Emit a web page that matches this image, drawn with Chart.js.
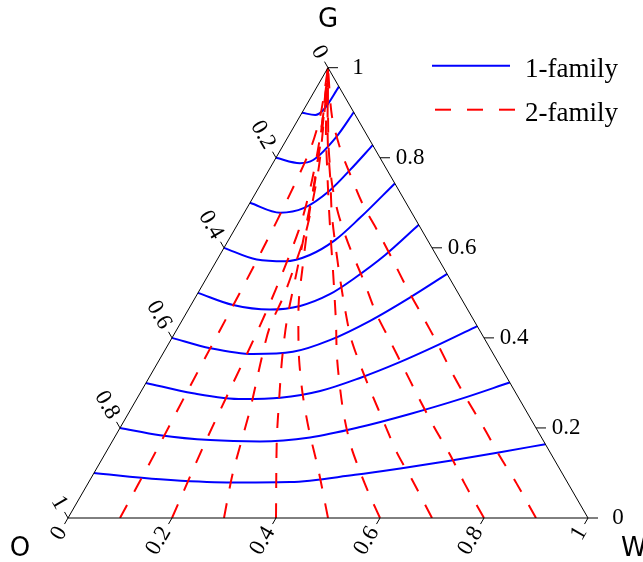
<!DOCTYPE html>
<html>
<head>
<meta charset="utf-8">
<script src="https://cdn.jsdelivr.net/npm/chart.js@4.4.0/dist/chart.umd.min.js"></script>
<style>
  html, body { margin: 0; padding: 0; background: #fff; }
</style>
</head>
<body>
<canvas id="ternary" width="643" height="562"></canvas>
<script>
"use strict";

// every point is a composition [W, G], O = 1 - W - G
const family1 = [
    [[0, 0.1], [0.134, 0.086], [0.266, 0.079], [0.387, 0.080], [0.504, 0.096], [0.584, 0.110], [0.671, 0.127], [0.758, 0.146], [0.836, 0.164]],
    [[0, 0.2], [0.085, 0.184], [0.187, 0.173], [0.284, 0.170], [0.376, 0.179], [0.461, 0.202], [0.542, 0.231], [0.622, 0.264], [0.699, 0.301]],
    [[0, 0.3], [0.102, 0.277], [0.204, 0.264], [0.275, 0.267], [0.344, 0.282], [0.406, 0.311], [0.465, 0.346], [0.522, 0.386], [0.574, 0.426]],
    [[0, 0.4], [0.085, 0.377], [0.174, 0.364], [0.248, 0.369], [0.306, 0.395], [0.362, 0.438], [0.414, 0.491], [0.458, 0.542]],
    [[0, 0.5], [0.081, 0.473], [0.157, 0.463], [0.211, 0.471], [0.255, 0.497], [0.285, 0.533], [0.318, 0.584], [0.349, 0.651]],
    [[0, 0.6], [0.076, 0.574], [0.133, 0.570], [0.173, 0.584], [0.205, 0.617], [0.228, 0.666], [0.257, 0.743]],
    [[0, 0.7], [0.069, 0.678], [0.109, 0.688], [0.140, 0.728], [0.156, 0.773], [0.172, 0.828]],
    [[0, 0.8], [0.052, 0.788], [0.074, 0.795], [0.093, 0.847], [0.099, 0.901]],
    [[0, 0.9], [0.028, 0.895], [0.038, 0.906], [0.042, 0.958]]
];

const family2 = [
    [[0.1, 0], [0.095, 0.151], [0.089, 0.281], [0.085, 0.380], [0.082, 0.462], [0.076, 0.595], [0.067, 0.722], [0.056, 0.822], [0.038, 0.895], [0, 1]],
    [[0.2, 0], [0.181, 0.158], [0.169, 0.284], [0.159, 0.395], [0.146, 0.506], [0.124, 0.640], [0.101, 0.728], [0.072, 0.817], [0.039, 0.906], [0, 1]],
    [[0.3, 0], [0.267, 0.100], [0.230, 0.240], [0.194, 0.358], [0.176, 0.424], [0.168, 0.495], [0.154, 0.569], [0.140, 0.635], [0.118, 0.706], [0.091, 0.784], [0.050, 0.884], [0, 1]],
    [[0.4, 0], [0.315, 0.173], [0.275, 0.262], [0.236, 0.351], [0.201, 0.440], [0.176, 0.517], [0.151, 0.595], [0.129, 0.662], [0.111, 0.717], [0.087, 0.784], [0.058, 0.862], [0, 1]],
    [[0.5, 0], [0.428, 0.107], [0.366, 0.195], [0.315, 0.273], [0.269, 0.351], [0.234, 0.418], [0.202, 0.484], [0.175, 0.551], [0.149, 0.617], [0.123, 0.684], [0.100, 0.751], [0.074, 0.817], [0.043, 0.895], [0, 1]],
    [[0.6, 0], [0.558, 0.047], [0.516, 0.096], [0.464, 0.160], [0.416, 0.229], [0.375, 0.295], [0.336, 0.362], [0.301, 0.429], [0.271, 0.484], [0.234, 0.551], [0.197, 0.617], [0.154, 0.695], [0.112, 0.773], [0.065, 0.862], [0, 1]],
    [[0.7, 0], [0.622, 0.082], [0.561, 0.144], [0.506, 0.207], [0.447, 0.275], [0.392, 0.340], [0.344, 0.400], [0.302, 0.462], [0.259, 0.529], [0.218, 0.595], [0.171, 0.673], [0.129, 0.751], [0.080, 0.839], [0, 1]],
    [[0.8, 0], [0.723, 0.078], [0.665, 0.140], [0.603, 0.202], [0.539, 0.269], [0.481, 0.331], [0.423, 0.393], [0.365, 0.455], [0.306, 0.526], [0.233, 0.611], [0.181, 0.677], [0.138, 0.740], [0.093, 0.817], [0.047, 0.906], [0, 1]],
    [[0.9, 0], [0.823, 0.078], [0.763, 0.136], [0.700, 0.200], [0.639, 0.260], [0.576, 0.324], [0.518, 0.386], [0.460, 0.446], [0.398, 0.509], [0.340, 0.571], [0.279, 0.635], [0.220, 0.695], [0.162, 0.762], [0.112, 0.822], [0.061, 0.893], [0, 1]]
];

const tickValues = [0, 0.2, 0.4, 0.6, 0.8, 1];
const tickLabels = ['0', '0.2', '0.4', '0.6', '0.8', '1'];
const cornerLabels = { O: 'O', W: 'W', G: 'G' };
const legendLabels = ['1-family', '2-family'];

const H = Math.sqrt(3) / 2;
const toXY = (p) => ({ x: p[0] + p[1] / 2, y: p[1] * H });

const tickFont = '23px "Liberation Serif", serif';
const legendFont = '27px "Liberation Serif", serif';
const cornerFont = '26px "DejaVu Sans", sans-serif';

const ternaryFrame = {
    id: 'ternaryFrame',
    afterDatasetsDraw(chart) {
        const ctx = chart.ctx;
        const xs = chart.scales.x;
        const ys = chart.scales.y;
        const px = (w, g) => [xs.getPixelForValue(w + g / 2), ys.getPixelForValue(g * H)];

        const O = px(0, 0), W = px(1, 0), G = px(0, 1);

        ctx.save();
        ctx.strokeStyle = '#000';
        ctx.fillStyle = '#000';
        ctx.lineWidth = 1;
        ctx.setLineDash([]);

        ctx.beginPath();
        ctx.moveTo(O[0], O[1]);
        ctx.lineTo(W[0], W[1]);
        ctx.lineTo(G[0], G[1]);
        ctx.closePath();
        ctx.stroke();

        ctx.font = tickFont;
        const c60 = 0.5, s60 = H;

        tickValues.forEach((v, i) => {
            // bottom axis (W)
            let a = px(v, 0);
            ctx.beginPath();
            ctx.moveTo(a[0], a[1]);
            ctx.lineTo(a[0] - 7 * c60, a[1] + 7 * s60);
            ctx.stroke();
            ctx.save();
            ctx.translate(a[0] - 12 * c60, a[1] + 12 * s60);
            ctx.rotate(-Math.PI / 3);
            ctx.textAlign = 'right';
            ctx.textBaseline = 'middle';
            ctx.fillText(tickLabels[i], 0, 0);
            ctx.restore();

            // left axis (O)
            a = px(0, 1 - v);
            ctx.beginPath();
            ctx.moveTo(a[0], a[1]);
            ctx.lineTo(a[0] - 7 * c60, a[1] - 7 * s60);
            ctx.stroke();
            ctx.save();
            ctx.translate(a[0] - 12 * c60, a[1] - 12 * s60);
            ctx.rotate(Math.PI / 3);
            ctx.textAlign = 'right';
            ctx.textBaseline = 'middle';
            ctx.fillText(tickLabels[i], 0, 0);
            ctx.restore();

            // right axis (G)
            a = px(1 - v, v);
            ctx.beginPath();
            ctx.moveTo(a[0], a[1]);
            ctx.lineTo(a[0] + 10, a[1]);
            ctx.stroke();
            ctx.textAlign = 'center';
            ctx.textBaseline = 'middle';
            ctx.fillText(tickLabels[i], a[0] + 30, a[1]);
        });

        // corner names
        ctx.font = cornerFont;
        ctx.textBaseline = 'alphabetic';
        ctx.textAlign = 'center';
        ctx.fillText(cornerLabels.G, G[0], G[1] - 41);
        ctx.fillText(cornerLabels.O, O[0] - 48, O[1] + 38);
        ctx.textAlign = 'left';
        ctx.fillText(cornerLabels.W, W[0] + 33, W[1] + 38);

        // legend
        const lx = chart.chartArea.right - 156;
        const ly = chart.chartArea.top - 2;
        ctx.lineWidth = 2;
        ctx.strokeStyle = '#0000ff';
        ctx.beginPath();
        ctx.moveTo(lx, ly);
        ctx.lineTo(lx + 78, ly);
        ctx.stroke();
        ctx.strokeStyle = '#ff0000';
        ctx.setLineDash([16, 16]);
        ctx.beginPath();
        ctx.moveTo(lx + 3, ly + 44);
        ctx.lineTo(lx + 83, ly + 44);
        ctx.stroke();
        ctx.setLineDash([]);
        ctx.font = legendFont;
        ctx.textAlign = 'left';
        ctx.fillText(legendLabels[0], lx + 93, ly + 11);
        ctx.fillText(legendLabels[1], lx + 93, ly + 55);

        ctx.restore();
    }
};

const datasets = [];
family2.forEach((curve) => {
    datasets.push({
        data: curve.map(toXY),
        showLine: true,
        borderColor: '#ff0000',
        borderWidth: 2,
        borderDash: [15, 15],
        pointRadius: 0,
        tension: 0.3,
        fill: false
    });
});
family1.forEach((curve) => {
    datasets.push({
        data: curve.map(toXY),
        showLine: true,
        borderColor: '#0000ff',
        borderWidth: 2,
        pointRadius: 0,
        cubicInterpolationMode: 'monotone',
        fill: false
    });
});

new Chart(document.getElementById('ternary').getContext('2d'), {
    type: 'scatter',
    data: { datasets: datasets },
    options: {
        responsive: false,
        animation: false,
        layout: { padding: { left: 68, right: 55, top: 67.7, bottom: 44 } },
        scales: {
            x: { type: 'linear', min: 0, max: 1, display: false },
            y: { type: 'linear', min: 0, max: H, display: false }
        },
        plugins: {
            legend: { display: false },
            tooltip: { enabled: false }
        }
    },
    plugins: [ternaryFrame]
});
</script>
</body>
</html>
